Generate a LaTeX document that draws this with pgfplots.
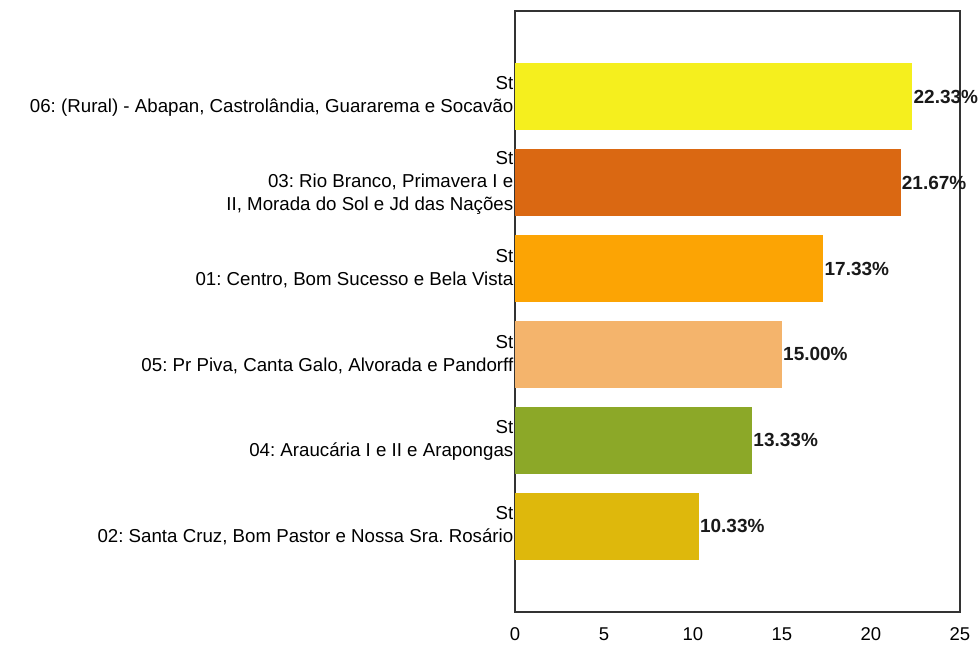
\documentclass[border=0pt]{standalone}
\usepackage{pgfplots}
\pgfplotsset{compat=1.18}
\usepackage{fontspec}
\setmainfont{Liberation Sans}
\frenchspacing
\definecolor{cA}{HTML}{F5EF1E}
\definecolor{cB}{HTML}{DA6812}
\definecolor{cC}{HTML}{FCA404}
\definecolor{cD}{HTML}{F4B46C}
\definecolor{cE}{HTML}{8CA828}
\definecolor{cF}{HTML}{DEB80C}
\begin{document}
\begin{tikzpicture}
\useasboundingbox (-515pt,-33pt) rectangle (464pt,612pt);
\begin{axis}[
  at={(0pt,0pt)}, anchor=south west,
  scale only axis, width=445pt, height=601pt,
  xbar, bar shift=0pt, bar width=0.78,
  xmin=0, xmax=25, ymin=-1, ymax=6,
  xtick={0,5,10,15,20,25},
  ytick={0,1,2,3,4,5},
  yticklabels={
    {St\\02: Santa Cruz, Bom Pastor e Nossa Sra. Rosário},
    {St\\04: Araucária I e II e Arapongas},
    {St\\05: Pr Piva, Canta Galo, Alvorada e Pandorff},
    {St\\01: Centro, Bom Sucesso e Bela Vista},
    {St\\03: Rio Branco, Primavera I e\\II, Morada do Sol e Jd das Nações},
    {St\\06: (Rural) - Abapan, Castrolândia, Guararema e Socavão}},
  yticklabel style={align=right, font=\fontsize{18.7}{23}\selectfont, inner sep=1.5pt},
  xticklabel style={font=\fontsize{18.5}{20}\selectfont, yshift=-12pt},
  /pgf/number format/assume math mode=true,
  major tick length=0pt,
  axis line style={line width=1.3pt, draw=black!80},
  every axis plot/.append style={draw=none},
  nodes near coords={\pgfmathprintnumber[fixed,fixed zerofill,precision=2]{\pgfplotspointmeta}\%},
  point meta=x,
  every node near coord/.append style={font=\bfseries\fontsize{19}{20}\selectfont, anchor=west, inner sep=1pt, text=black!90},
]
\addplot[fill=cA] coordinates {(22.33,5)};
\addplot[fill=cB] coordinates {(21.67,4)};
\addplot[fill=cC] coordinates {(17.33,3)};
\addplot[fill=cD] coordinates {(15.00,2)};
\addplot[fill=cE] coordinates {(13.33,1)};
\addplot[fill=cF] coordinates {(10.33,0)};
\end{axis}
\end{tikzpicture}
\end{document}
